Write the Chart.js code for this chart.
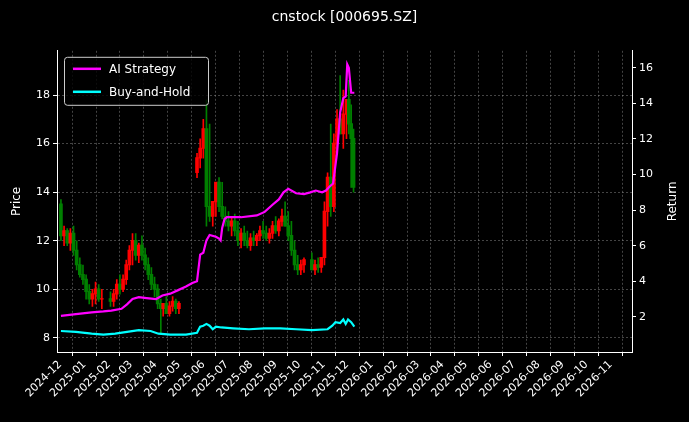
<!DOCTYPE html>
<html><head><meta charset="utf-8">
<script src="https://cdn.jsdelivr.net/npm/chart.js@4"></script>
<style>html,body{margin:0;background:#000;}canvas{display:block}</style>
</head><body>
<canvas id="c" width="689" height="422"></canvas>
<script>
// days since 2024-12-01
const candleDays = [1,5,9,13,17,21,25,29,33,37,41,45,49,53,64,68,72,76,80,84,88,92,96,100,104,108,112,116,120,124,128,131,135,139,143,147,151,174,178,182,186,190,194,198,202,206,210,214,218,222,226,230,234,238,242,246,250,254,258,262,266,270,274,278,282,286,290,294,298,302,306,310,320,324,328,332,336,340,344,348,352,356,360,364,367,370,373];
const openP  = [13.5,12.2,12.4,11.9,12.3,11.6,11.0,10.6,10.4,9.9,9.6,9.8,10.0,9.6,9.6,9.5,9.8,10.2,10.0,10.4,11.0,11.6,12.0,11.4,11.8,11.4,11.0,10.6,10.2,10.0,9.4,9.2,9.4,9.0,9.3,9.5,9.2,14.8,15.4,15.8,16.6,13.4,13.0,13.6,14.4,13.4,13.0,12.8,12.6,12.8,12.4,12.0,12.3,12.0,11.8,12.1,12.0,12.2,12.4,12.3,12.1,12.3,12.6,12.4,12.8,13.0,12.6,12.2,11.6,11.0,10.8,11.0,11.2,10.8,11.0,10.9,11.3,13.2,14.6,13.4,16.0,17.0,16.4,17.2,17.8,16.8,16.2];
const highP  = [13.7,12.6,12.5,12.5,12.6,12.0,11.3,11.0,10.6,10.2,10.0,10.3,10.2,10.0,9.9,10.0,10.4,10.6,10.6,11.2,11.8,12.3,12.3,11.9,12.2,11.7,11.3,10.9,10.5,10.2,9.6,9.4,9.7,9.5,9.7,9.6,9.5,15.6,16.2,17.0,17.8,16.8,13.6,14.2,14.6,14.4,13.4,13.2,13.0,13.1,12.8,12.5,12.6,12.4,12.3,12.4,12.3,12.6,12.8,12.6,12.5,12.8,13.0,12.9,13.3,13.6,13.2,12.8,12.0,11.4,11.2,11.3,11.5,11.2,11.3,11.2,13.6,14.8,16.8,16.4,17.4,18.8,18.2,17.8,18.6,17.6,16.6];
const lowP   = [12.0,11.8,11.8,11.6,11.4,10.8,10.5,10.2,9.6,9.4,9.3,9.4,9.5,9.2,9.3,9.3,9.6,9.8,9.9,10.2,10.8,11.0,11.2,11.1,11.2,10.8,10.4,10.0,9.7,9.2,8.2,8.9,9.0,8.9,9.1,9.0,9.0,14.6,15.0,15.4,12.6,12.8,12.6,13.0,13.2,12.9,12.6,12.4,12.2,12.2,11.8,11.7,11.8,11.7,11.6,11.8,11.8,12.0,12.1,12.0,11.9,12.1,12.3,12.2,12.6,12.6,12.0,11.4,10.8,10.6,10.6,10.7,10.8,10.6,10.7,10.7,11.0,12.6,13.0,13.2,15.6,16.4,15.8,16.2,16.4,14.2,14.0];
const closeP = [12.2,12.4,11.9,12.3,11.6,11.0,10.6,10.4,9.9,9.6,9.8,10.0,9.6,9.6,9.5,9.8,10.2,10.0,10.4,11.0,11.6,12.0,11.4,11.8,11.4,11.0,10.6,10.2,10.0,9.4,9.2,9.4,9.0,9.3,9.5,9.2,9.4,15.4,15.8,16.6,13.4,13.0,13.6,14.4,13.4,13.0,12.8,12.6,12.8,12.4,12.0,12.3,12.0,11.8,12.1,12.0,12.2,12.4,12.3,12.1,12.3,12.6,12.4,12.8,13.0,12.6,12.2,11.6,11.0,10.8,11.0,11.2,10.8,11.0,10.9,11.3,13.2,14.6,13.4,16.0,17.0,16.4,17.2,17.8,16.8,16.2,14.2];

const aiDays = [1,20,40,55,65,78,85,92,100,110,122,130,140,150,160,168,174,178,182,186,190,198,202,204,206,209,212,230,250,260,270,278,284,290,300,310,318,325,333,338,342,347,352,356,360,363,365,367,370,374];
const aiRet  = [2.05,2.15,2.25,2.3,2.35,2.45,2.7,3.0,3.1,3.05,3.0,3.2,3.3,3.5,3.7,3.9,4.0,5.5,5.6,6.3,6.6,6.5,6.4,6.3,7.0,7.5,7.6,7.6,7.7,7.9,8.3,8.6,9.0,9.2,8.95,8.9,9.0,9.1,9.0,9.1,9.3,9.5,11.2,13.5,14.3,14.4,16.2,16.0,14.6,14.6];
const bhDays = [1,20,40,55,70,85,100,115,125,140,160,174,178,182,186,190,194,198,205,220,240,260,280,300,320,340,346,350,356,360,363,366,370,374];
const bhRet  = [1.2,1.15,1.05,1.0,1.05,1.15,1.25,1.2,1.05,1.0,1.0,1.1,1.45,1.5,1.6,1.5,1.3,1.45,1.4,1.35,1.3,1.35,1.35,1.3,1.25,1.3,1.5,1.7,1.65,1.85,1.6,1.85,1.7,1.45];

const monthLabels = ['2024-12','2025-01','2025-02','2025-03','2025-04','2025-05','2025-06','2025-07','2025-08','2025-09','2025-10','2025-11','2025-12','2026-01','2026-02','2026-03','2026-04','2026-05','2026-06','2026-07','2026-08','2026-09','2026-10','2026-11'];
const monthDays = [0,31,62,90,121,151,182,212,243,274,304,335,365,396,427,455,486,516,547,577,608,639,669,700];

const colors = candleDays.map((d,i)=> closeP[i]>=openP[i] ? '#ff0000' : '#008000');
const wicks = candleDays.map((d,i)=>({x:d,y:[lowP[i],highP[i]]}));
const bodies = candleDays.map((d,i)=>({x:d,y:[Math.min(openP[i],closeP[i]),Math.max(openP[i],closeP[i])+0.02]}));

const F='DejaVu Sans';
const legendPlugin = {
  id:'boxLegend',
  afterDraw(chart){
    const ctx=chart.ctx, a=chart.chartArea;
    const x=a.left+7, y=a.top+6, w=144, h=48;
    ctx.save();
    ctx.fillStyle='rgba(0,0,0,0.8)';
    ctx.strokeStyle='#cccccc'; ctx.lineWidth=1;
    ctx.beginPath(); ctx.roundRect(x+0.5,y+0.5,w,h,3); ctx.fill(); ctx.stroke();
    ctx.font='12px "'+F+'"'; ctx.textBaseline='middle';
    [['AI Strategy','#ff00ff',y+12],['Buy-and-Hold','#00ffff',y+35]].forEach(([t,c,yy])=>{
      ctx.strokeStyle=c; ctx.lineWidth=2.5;
      ctx.beginPath(); ctx.moveTo(x+9,yy); ctx.lineTo(x+37,yy); ctx.stroke();
      ctx.fillStyle='#ffffff'; ctx.fillText(t,x+45,yy+1);
    });
    const cy=(a.top+a.bottom)/2;
    ctx.textAlign='center'; ctx.fillStyle='#fff';
    ctx.save(); ctx.translate(673,cy); ctx.rotate(-Math.PI/2); ctx.fillText('Return',0,0); ctx.restore();
    ctx.save(); ctx.translate(17,cy); ctx.rotate(-Math.PI/2); ctx.fillText('Price',0,0); ctx.restore();
    ctx.restore();
  }
};
const bgPlugin={id:'bg',beforeDraw(c){c.ctx.save();c.ctx.fillStyle='#000';c.ctx.fillRect(0,0,c.width,c.height);c.ctx.restore();}};

const gridC='rgba(150,150,150,0.45)';
new Chart(document.getElementById('c'),{
  data:{datasets:[
    {type:'bar',data:wicks,backgroundColor:colors,barThickness:1,yAxisID:'y',grouped:false,order:3},
    {type:'bar',data:bodies,backgroundColor:colors,barThickness:3,yAxisID:'y',grouped:false,order:2},
    {type:'line',label:'AI Strategy',data:aiDays.map((d,i)=>({x:d,y:aiRet[i]})),borderColor:'#ff00ff',borderWidth:2.2,pointRadius:0,yAxisID:'y1',order:1},
    {type:'line',label:'Buy-and-Hold',data:bhDays.map((d,i)=>({x:d,y:bhRet[i]})),borderColor:'#00ffff',borderWidth:2.2,pointRadius:0,yAxisID:'y1',order:0}
  ]},
  options:{
    responsive:false,animation:false,
    layout:{padding:0},
    plugins:{legend:{display:false},tooltip:{enabled:false},
      title:{display:true,text:'cnstock [000695.SZ]',color:'#fff',font:{family:F,size:14,weight:'normal'},padding:{top:9,bottom:25}}},
    scales:{
      x:{type:'linear',min:-4,max:727,offset:false,
        afterFit(ax){ax.height=70;},
        afterBuildTicks(ax){ax.ticks=monthDays.map(v=>({value:v}));},
        ticks:{color:'#fff',font:{family:F,size:11},maxRotation:45,minRotation:45,autoSkip:false,padding:2,
          callback:(v)=>monthLabels[monthDays.indexOf(v)]},
        grid:{color:gridC,tickColor:'#fff',tickLength:4},border:{color:'#fff',dash:[2,2]}},
      y:{position:'left',min:7.42,max:19.82,
        afterFit(ax){ax.width=57;},
        afterBuildTicks(ax){ax.ticks=[8,10,12,14,16,18].map(v=>({value:v}));},
        ticks:{color:'#fff',font:{family:F,size:11}},
        grid:{color:gridC,tickColor:'#fff',tickLength:4},border:{color:'#fff',dash:[2,2]}},
      y1:{position:'right',min:0.02,max:16.96,
        afterFit(ax){ax.width=57;},
        afterBuildTicks(ax){ax.ticks=[2,4,6,8,10,12,14,16].map(v=>({value:v}));},
        ticks:{color:'#fff',font:{family:F,size:11}},
        grid:{drawOnChartArea:false,tickColor:'#fff',tickLength:4},border:{color:'#fff'}}
    }
  },
  plugins:[bgPlugin,legendPlugin]
});
</script>
</body></html>
